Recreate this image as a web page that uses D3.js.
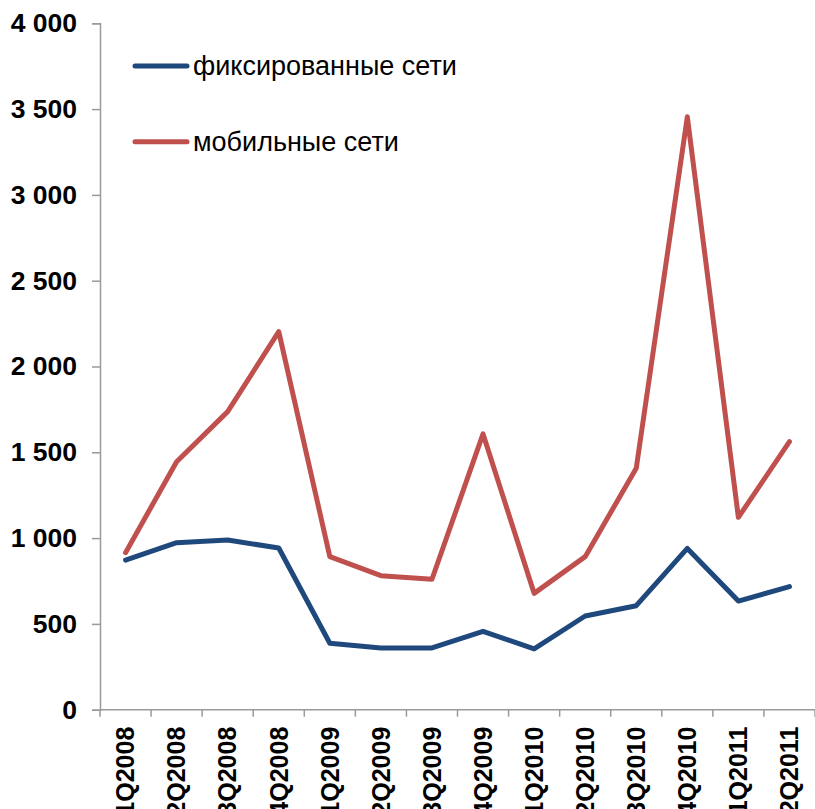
<!DOCTYPE html>
<html>
<head>
<meta charset="utf-8">
<script src="https://cdn.jsdelivr.net/npm/d3@7"></script>
<style>
html,body{margin:0;padding:0;background:#fff;}
svg{display:block;}
</style>
</head>
<body>
<svg id="chart" width="815" height="809"></svg>
<script>
const categories = ["1Q2008","2Q2008","3Q2008","4Q2008","1Q2009","2Q2009","3Q2009","4Q2009","1Q2010","2Q2010","3Q2010","4Q2010","1Q2011","2Q2011"];
const fixedValues = [872, 973, 989, 942, 387, 360, 360, 457, 354, 546, 606, 940, 633, 717];
const mobileValues = [915, 1445, 1737, 2203, 892, 781, 760, 1607, 678, 892, 1407, 3455, 1121, 1562];
const seriesNames = ["фиксированные сети", "мобильные сети"];
const seriesColors = ["#1F497D", "#C0504D"];
const yTicks = [0, 500, 1000, 1500, 2000, 2500, 3000, 3500, 4000];

const svg = d3.select("#chart");
const font = "Liberation Sans, Arial, sans-serif";
const axisColor = "#9a9a9a";

const x = d3.scaleBand().domain(categories).range([100, 815]).padding(0);
const y = d3.scaleLinear().domain([0, 4000]).range([709.7, 23.3]);
const locale = d3.formatLocale({decimal: ",", thousands: " ", grouping: [3], currency: ["", ""]});
const fmt = locale.format(",");

// Y axis
const yAxis = svg.append("g").attr("transform", "translate(100,0)")
  .call(d3.axisLeft(y).tickValues(yTicks).tickFormat(fmt).tickSize(8).tickPadding(15));
yAxis.select(".domain").attr("stroke", axisColor).attr("stroke-width", 1.5);
yAxis.selectAll(".tick line").attr("stroke", axisColor).attr("stroke-width", 1.5);
yAxis.selectAll(".tick text").attr("font-family", font).attr("font-size", 26.5)
  .attr("font-weight", "bold").attr("fill", "#000");

// X axis
const xAxisG = svg.append("g").attr("transform", `translate(0,${y(0)})`);
xAxisG.append("line").attr("x1", 100).attr("x2", 815).attr("y1", 0).attr("y2", 0)
  .attr("stroke", axisColor).attr("stroke-width", 1.5);
const boundaries = categories.map(c => x(c)).concat([x(categories[categories.length - 1]) + x.bandwidth()]);
xAxisG.selectAll("line.tk").data(boundaries).enter().append("line")
  .attr("class", "tk").attr("x1", d => d).attr("x2", d => d).attr("y1", 0).attr("y2", 7)
  .attr("stroke", axisColor).attr("stroke-width", 1.5);
xAxisG.selectAll("text.lbl").data(categories).enter().append("text")
  .attr("class", "lbl")
  .attr("transform", d => `translate(${x(d) + x.bandwidth() / 2},17) rotate(-90)`)
  .attr("text-anchor", "end").attr("dy", "0.35em")
  .attr("font-family", font).attr("font-size", 25).attr("font-weight", "bold").attr("fill", "#000")
  .text(d => d);

// Lines
const line = d3.line()
  .x((d, i) => x(categories[i]) + x.bandwidth() / 2)
  .y(d => y(d));
[fixedValues, mobileValues].forEach((vals, i) => {
  svg.append("path").datum(vals).attr("d", line)
    .attr("fill", "none").attr("stroke", seriesColors[i]).attr("stroke-width", 5)
    .attr("stroke-linejoin", "round").attr("stroke-linecap", "round");
});

// Legend
const legendY = [66, 141.7];
seriesNames.forEach((name, i) => {
  const g = svg.append("g");
  g.append("line").attr("x1", 135).attr("x2", 187).attr("y1", legendY[i]).attr("y2", legendY[i])
    .attr("stroke", seriesColors[i]).attr("stroke-width", 5).attr("stroke-linecap", "round");
  g.append("text").attr("x", 193).attr("y", legendY[i]).attr("dy", "0.35em")
    .attr("font-family", font).attr("font-size", 27).attr("fill", "#000").text(name);
});
</script>
</body>
</html>
